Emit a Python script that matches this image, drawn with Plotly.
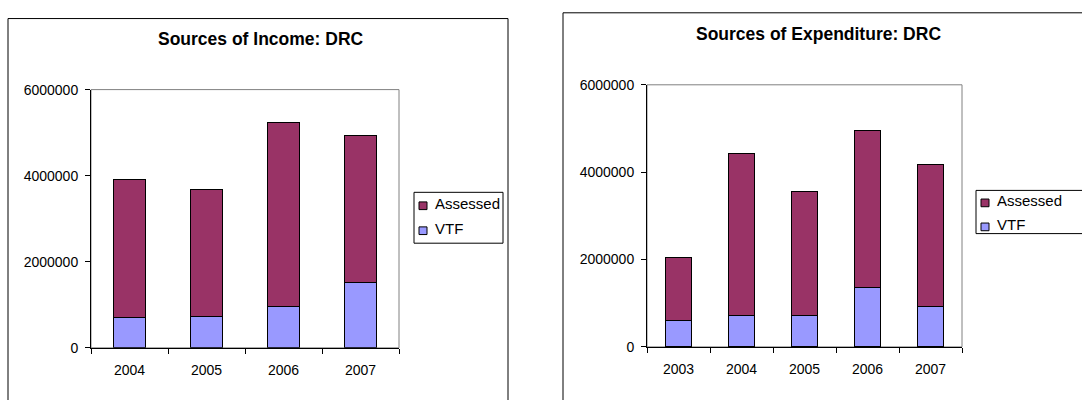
import plotly.graph_objects as go

# --- data -------------------------------------------------------------
income_years = ["2004", "2005", "2006", "2007"]
income_vtf = [705000, 736000, 952000, 1510000]
income_assessed = [3197000, 2951000, 4274000, 3435000]

expend_years = ["2003", "2004", "2005", "2006", "2007"]
expend_vtf = [609000, 725000, 725000, 1369000, 916000]
expend_assessed = [1442000, 3693000, 2835000, 3576000, 3260000]

y_ticks = [0, 2000000, 4000000, 6000000]

ASSESSED = "#993366"
VTF = "#9999FF"
FONT = "Liberation Sans, Arial, sans-serif"

W, H = 1082, 400


def px(x):
    return x / W


def py(y):
    return 1 - y / H


fig = go.Figure()

bar_line = dict(color="black", width=1)
for xa, ya, years, vtf, assessed in [
    ("x", "y", income_years, income_vtf, income_assessed),
    ("x2", "y2", expend_years, expend_vtf, expend_assessed),
]:
    fig.add_trace(go.Bar(x=years, y=vtf, name="VTF", marker=dict(color=VTF, line=bar_line),
                         xaxis=xa, yaxis=ya, showlegend=False))
    fig.add_trace(go.Bar(x=years, y=assessed, name="Assessed", marker=dict(color=ASSESSED, line=bar_line),
                         xaxis=xa, yaxis=ya, showlegend=False))

tick_font = dict(family=FONT, size=14, color="black")
xcommon = dict(type="category", showline=True, linecolor="black", linewidth=1,
               ticks="outside", tickson="boundaries", ticklen=5, tickcolor="black",
               ticklabelstandoff=9,
               showgrid=False, zeroline=False, tickfont=tick_font, fixedrange=True)
ycommon = dict(range=[0, 6000000], tickvals=y_ticks, tickformat="d", showline=True,
               linecolor="black", linewidth=1, ticks="outside", ticklen=5, tickcolor="black",
               ticklabelstandoff=4,
               showgrid=False, zeroline=False, tickfont=tick_font, fixedrange=True)

fig.update_layout(
    width=W, height=H,
    margin=dict(l=0, r=0, t=0, b=0),
    paper_bgcolor="white", plot_bgcolor="white",
    barmode="stack", bargap=0.585,
    showlegend=False,
    xaxis=dict(domain=[px(91), px(399)], anchor="y", **xcommon),
    yaxis=dict(domain=[py(354), py(85)], anchor="x", **ycommon),
    xaxis2=dict(domain=[px(647), px(962)], anchor="y2", **xcommon),
    yaxis2=dict(domain=[py(353), py(80)], anchor="x2", **ycommon),
)

shapes = []
annotations = []

# chart frames
shapes.append(dict(type="rect", xref="paper", yref="paper", x0=px(8), x1=px(508),
                   y0=py(420), y1=py(11), line=dict(color="black", width=1), layer="below"))
shapes.append(dict(type="rect", xref="paper", yref="paper", x0=px(563), x1=px(1100),
                   y0=py(420), y1=py(5), line=dict(color="black", width=1), layer="below"))

# plot-area borders (grey top / right)
for x0, x1, y0, y1 in [(91, 399, 354, 85), (647, 962, 353, 80)]:
    shapes.append(dict(type="rect", xref="paper", yref="paper", x0=px(x0), x1=px(x1),
                       y0=py(y0), y1=py(y1), line=dict(color="#808080", width=1), layer="below"))

# titles
annotations.append(dict(text="<b>Sources of Income: DRC</b>", x=px(261), y=py(32.5),
                        xref="paper", yref="paper", xanchor="center", yanchor="middle",
                        showarrow=False, font=dict(family=FONT, size=17.5, color="black")))
annotations.append(dict(text="<b>Sources of Expenditure: DRC</b>", x=px(818), y=py(27.5),
                        xref="paper", yref="paper", xanchor="center", yanchor="middle",
                        showarrow=False, font=dict(family=FONT, size=17.5, color="black")))

# legends
legends = [
    dict(box=(414, 503, 192, 245), sw=(419, 427), txt=433, rows=(204, 230)),
    dict(box=(976, 1100, 190, 235), sw=(981, 989), txt=995, rows=(201, 226)),
]
for lg in legends:
    bx0, bx1, by0, by1 = lg["box"]
    shapes.append(dict(type="rect", xref="paper", yref="paper", x0=px(bx0), x1=px(bx1),
                       y0=py(by1), y1=py(by0), line=dict(color="black", width=1),
                       fillcolor="white"))
    for (label, color), yc in zip([("Assessed", ASSESSED), ("VTF", VTF)], lg["rows"]):
        sx0, sx1 = lg["sw"]
        shapes.append(dict(type="rect", xref="paper", yref="paper", x0=px(sx0), x1=px(sx1),
                           y0=py(yc + 6), y1=py(yc - 2), line=dict(color="black", width=1),
                           fillcolor=color))
        annotations.append(dict(text=label, x=px(lg["txt"]), y=py(yc), xref="paper", yref="paper",
                                xanchor="left", yanchor="middle", showarrow=False,
                                font=dict(family=FONT, size=15, color="black")))

fig.update_layout(shapes=shapes, annotations=annotations)

fig.write_html("out.html")
